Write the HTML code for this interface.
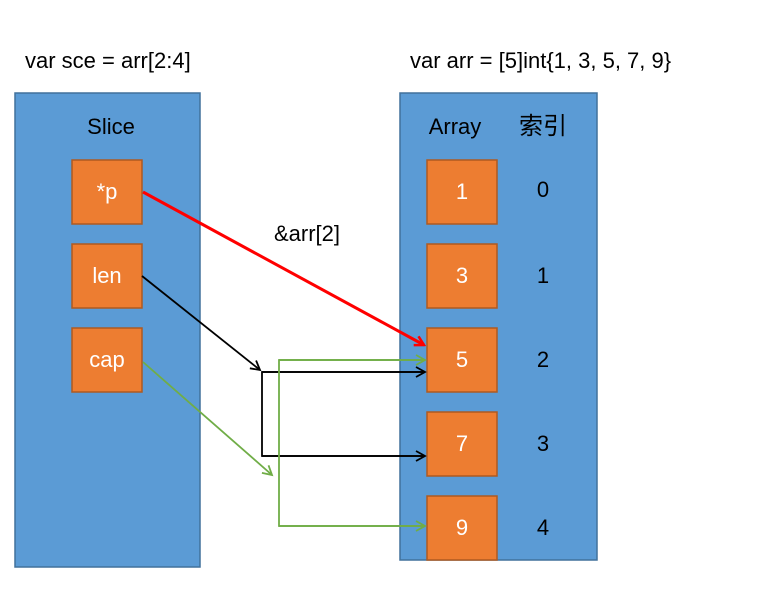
<!DOCTYPE html>
<html><head><style>
body{margin:0;width:757px;height:611px;background:#fff;overflow:hidden;font-family:"Liberation Sans","Noto Sans CJK SC",sans-serif;}
</style></head><body>
<svg width="757" height="611" xmlns="http://www.w3.org/2000/svg" font-family="Liberation Sans, Noto Sans CJK SC, sans-serif">
<defs>
<marker id="ar" markerWidth="12" markerHeight="12" refX="10" refY="6" orient="auto" markerUnits="userSpaceOnUse"><path d="M1,1 L10,6 L1,11" fill="none" stroke="#f00" stroke-width="2.5"/></marker>
<marker id="ab" markerWidth="12" markerHeight="12" refX="10" refY="6" orient="auto" markerUnits="userSpaceOnUse"><path d="M1,1 L10,6 L1,11" fill="none" stroke="#000" stroke-width="1.8"/></marker>
<marker id="ag" markerWidth="12" markerHeight="12" refX="10" refY="6" orient="auto" markerUnits="userSpaceOnUse"><path d="M1,1 L10,6 L1,11" fill="none" stroke="#70ad47" stroke-width="1.8"/></marker>
</defs>
<text x="25" y="68" font-size="22">var sce = arr[2:4]</text>
<text x="410" y="68" font-size="22">var arr = [5]int{1, 3, 5, 7, 9}</text>
<rect x="15" y="93" width="185" height="474" fill="#5b9bd5" stroke="#41719c" stroke-width="1.5"/>
<rect x="400" y="93" width="197" height="467" fill="#5b9bd5" stroke="#41719c" stroke-width="1.5"/>
<text x="111" y="134" font-size="22" text-anchor="middle">Slice</text>
<text x="455" y="134" font-size="22" text-anchor="middle">Array</text>
<text x="543" y="134" font-size="24" text-anchor="middle">索引</text>
<g fill="#ed7d31" stroke="#ae5a21" stroke-width="1.5">
<rect x="72" y="160" width="70" height="64"/><rect x="72" y="244" width="70" height="64"/><rect x="72" y="328" width="70" height="64"/>
<rect x="427" y="160" width="70" height="64"/><rect x="427" y="244" width="70" height="64"/><rect x="427" y="328" width="70" height="64"/><rect x="427" y="412" width="70" height="64"/><rect x="427" y="496" width="70" height="64"/>
</g>
<g fill="#fff" font-size="22" text-anchor="middle">
<text x="107" y="199">*p</text><text x="107" y="283">len</text><text x="107" y="367">cap</text>
<text x="462" y="199">1</text><text x="462" y="283">3</text><text x="462" y="367">5</text><text x="462" y="451">7</text><text x="462" y="535">9</text>
</g>
<g font-size="22" text-anchor="middle">
<text x="543" y="197">0</text><text x="543" y="283">1</text><text x="543" y="367">2</text><text x="543" y="451">3</text><text x="543" y="535">4</text>
</g>
<text x="307" y="241" font-size="22" text-anchor="middle">&amp;arr[2]</text>
<line x1="143" y1="192" x2="424" y2="345" stroke="#f00" stroke-width="3" marker-end="url(#ar)"/>
<line x1="142" y1="276" x2="260" y2="370" stroke="#000" stroke-width="1.8" marker-end="url(#ab)"/>
<polyline points="425,372 262,372 262,456 425,456" fill="none" stroke="#000" stroke-width="1.8"/>
<line x1="262" y1="372" x2="425" y2="372" stroke="#000" stroke-width="1.8" marker-end="url(#ab)"/>
<line x1="262" y1="456" x2="425" y2="456" stroke="#000" stroke-width="1.8" marker-end="url(#ab)"/>
<line x1="143" y1="362" x2="272" y2="475" stroke="#70ad47" stroke-width="1.8" marker-end="url(#ag)"/>
<polyline points="425,360 279,360 279,526 425,526" fill="none" stroke="#70ad47" stroke-width="1.8"/>
<line x1="279" y1="360" x2="425" y2="360" stroke="#70ad47" stroke-width="1.8" marker-end="url(#ag)"/>
<line x1="279" y1="526" x2="425" y2="526" stroke="#70ad47" stroke-width="1.8" marker-end="url(#ag)"/>
</svg>
</body></html>
